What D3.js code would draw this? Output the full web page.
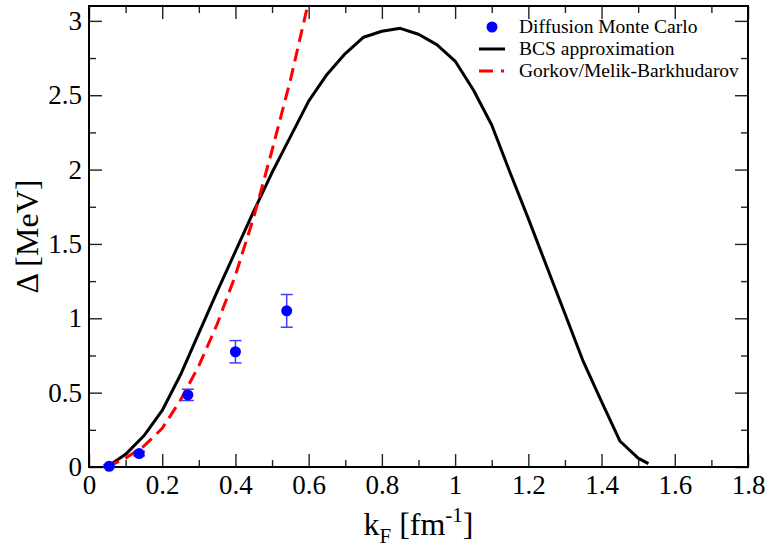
<!DOCTYPE html>
<html><head><meta charset="utf-8">
<script src="https://cdn.jsdelivr.net/npm/d3@7/dist/d3.min.js"></script>
<style>body{margin:0;background:#fff}</style>
</head><body>
<svg id="c" width="767" height="550"></svg>
<script>
// Data
const dmcK   = [0.055, 0.137, 0.27, 0.40, 0.54];
const dmcGap = [0.005, 0.09, 0.485, 0.775, 1.05];
const dmcErr = [0.01, 0.015, 0.038, 0.075, 0.11];

const bcsK   = [0.055, 0.1, 0.15, 0.2, 0.25, 0.3, 0.35, 0.4, 0.45, 0.5, 0.55, 0.6, 0.65, 0.7, 0.75, 0.8, 0.85, 0.9, 0.95, 1.0, 1.05, 1.1, 1.15, 1.2, 1.25, 1.3, 1.35, 1.4, 1.45, 1.5, 1.528];
const bcsGap = [0.01, 0.085, 0.21, 0.38, 0.62, 0.9, 1.18, 1.45, 1.72, 1.98, 2.22, 2.46, 2.64, 2.78, 2.89, 2.93, 2.95, 2.91, 2.84, 2.73, 2.535, 2.3, 1.98, 1.67, 1.35, 1.03, 0.71, 0.44, 0.175, 0.06, 0.023];

const gmbK   = [0.05, 0.1, 0.15, 0.2, 0.25, 0.3, 0.35, 0.4, 0.45, 0.5, 0.55, 0.595];
const gmbGap = [0.0, 0.06, 0.14, 0.26, 0.45, 0.68, 0.96, 1.29, 1.68, 2.13, 2.6, 3.08];

const xMajor = [0, 0.2, 0.4, 0.6, 0.8, 1.0, 1.2, 1.4, 1.6, 1.8];
const xMinor = [0.1, 0.3, 0.5, 0.7, 0.9, 1.1, 1.3, 1.5, 1.7];
const yMajor = [0, 0.5, 1, 1.5, 2, 2.5, 3];
const yMinor = [0.25, 0.75, 1.25, 1.75, 2.25, 2.75];
const legendLabels = ["Diffusion Monte Carlo", "BCS approximation", "Gorkov/Melik-Barkhudarov"];

const L = 89, R = 748, T = 6, B = 467;
const svg = d3.select("#c");
const x = d3.scaleLinear().domain([0, 1.8]).range([L, R]);
const y = d3.scaleLinear().domain([0, 3.1]).range([B, T]);
const font = "'Liberation Serif', 'Times New Roman', serif";

function fmt(d){ return d3.format("~g")(d); }

function addAxis(gen, tr, major, labels) {
  const g = svg.append("g").attr("transform", tr).call(gen);
  g.select(".domain").remove();
  g.selectAll(".tick line").attr("stroke", "#222").attr("stroke-width", 1.4);
  g.selectAll("text").attr("font-family", font).attr("font-size", 27).attr("fill", "#000");
  return g;
}
// bottom
addAxis(d3.axisBottom(x).tickValues(xMajor).tickSize(-13).tickPadding(8).tickFormat(fmt), `translate(0,${B})`);
addAxis(d3.axisBottom(x).tickValues(xMinor).tickSize(-7).tickFormat(""), `translate(0,${B})`);
// top
addAxis(d3.axisTop(x).tickValues(xMajor).tickSize(-13).tickFormat(""), `translate(0,${T})`);
addAxis(d3.axisTop(x).tickValues(xMinor).tickSize(-7).tickFormat(""), `translate(0,${T})`);
// left
addAxis(d3.axisLeft(y).tickValues(yMajor).tickSize(-13).tickPadding(7).tickFormat(fmt), `translate(${L},0)`);
addAxis(d3.axisLeft(y).tickValues(yMinor).tickSize(-7).tickFormat(""), `translate(${L},0)`);
// right
addAxis(d3.axisRight(y).tickValues(yMajor).tickSize(-13).tickFormat(""), `translate(${R},0)`);
addAxis(d3.axisRight(y).tickValues(yMinor).tickSize(-7).tickFormat(""), `translate(${R},0)`);

// frame
svg.append("rect").attr("x", L).attr("y", T).attr("width", R - L).attr("height", B - T)
  .attr("fill", "none").attr("stroke", "#000").attr("stroke-width", 2);

const line = d3.line().x(d => x(d[0])).y(d => y(d[1]));

// BCS
svg.append("path").datum(bcsK.map((k, i) => [k, bcsGap[i]]))
  .attr("d", line).attr("fill", "none").attr("stroke", "#000").attr("stroke-width", 3).attr("stroke-linejoin", "round");
// GMB
svg.append("path").datum(gmbK.map((k, i) => [k, gmbGap[i]]))
  .attr("d", line).attr("fill", "none").attr("stroke", "#ff0000").attr("stroke-width", 3)
  .attr("stroke-dasharray", "13,7");

// DMC error bars
const eb = svg.append("g").attr("stroke", "#3d3dff").attr("stroke-width", 1.5);
dmcK.forEach((k, i) => {
  const cx = x(k), y1 = y(dmcGap[i] + dmcErr[i]), y0 = y(dmcGap[i] - dmcErr[i]);
  eb.append("line").attr("x1", cx).attr("x2", cx).attr("y1", y1).attr("y2", y0);
  eb.append("line").attr("x1", cx - 6).attr("x2", cx + 6).attr("y1", y1).attr("y2", y1);
  eb.append("line").attr("x1", cx - 6).attr("x2", cx + 6).attr("y1", y0).attr("y2", y0);
});
svg.append("g").selectAll("circle").data(dmcK).join("circle")
  .attr("cx", d => x(d)).attr("cy", (d, i) => y(dmcGap[i])).attr("r", 5.5).attr("fill", "#0000ff");

// Legend
const lg = svg.append("g");
const rows = [33, 55, 77];
lg.append("circle").attr("cx", 492).attr("cy", rows[0] - 6).attr("r", 5.5).attr("fill", "#0000ff");
lg.append("line").attr("x1", 479).attr("x2", 505).attr("y1", rows[1] - 6).attr("y2", rows[1] - 6)
  .attr("stroke", "#000").attr("stroke-width", 3);
lg.append("line").attr("x1", 479).attr("x2", 505).attr("y1", rows[2] - 6).attr("y2", rows[2] - 6)
  .attr("stroke", "#ff0000").attr("stroke-width", 3).attr("stroke-dasharray", "14,8,3,10");
legendLabels.forEach((t, i) => {
  lg.append("text").attr("x", 519).attr("y", rows[i]).text(t)
    .attr("font-family", font).attr("font-size", 19.5).attr("fill", "#000");
});

// Axis titles
svg.append("text").attr("transform", `translate(38,${(T + B) / 2}) rotate(-90)`)
  .attr("text-anchor", "middle").attr("font-family", font).attr("font-size", 32).text("Δ [MeV]");

const xt = svg.append("text").attr("x", (L + R) / 2).attr("y", 535).attr("text-anchor", "middle")
  .attr("font-family", font).attr("font-size", 32);
xt.append("tspan").text("k");
xt.append("tspan").attr("font-size", 21).attr("dy", 8).text("F");
xt.append("tspan").attr("dy", -8).text(" [fm");
xt.append("tspan").attr("font-size", 21).attr("dy", -13).text("-1");
xt.append("tspan").attr("dy", 13).text("]");
</script>
</body></html>
